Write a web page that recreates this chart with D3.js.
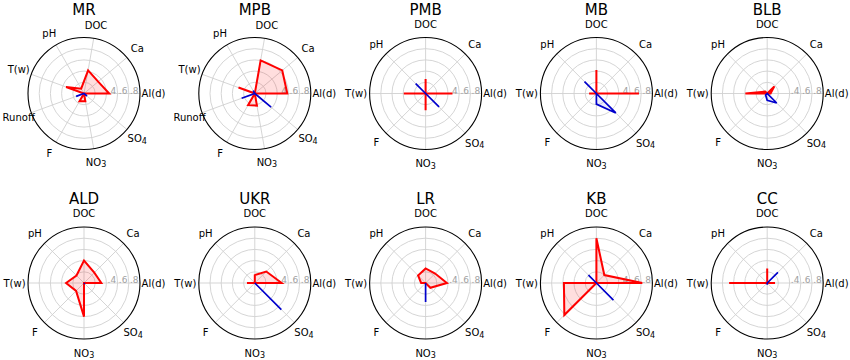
<!DOCTYPE html>
<html><head><meta charset="utf-8">
<script src="https://cdn.jsdelivr.net/npm/d3@7"></script>
<style>body{margin:0;background:#fff}svg{display:block}</style>
</head><body><svg id="c" width="850" height="360"></svg>
<script>
// ---------------- data ----------------
const sites = ["MR","MPB","PMB","MB","BLB","ALD","UKR","LR","KB","CC"];
const axes9 = ["Al(d)","Ca","DOC","pH","T(w)","Runoff","F","NO3","SO4"];
const axes8 = ["Al(d)","Ca","DOC","pH","T(w)","F","NO3","SO4"];
const ringTicks = [0.2, 0.4, 0.6, 0.8];
const ringLabelTicks = [0.4, 0.6, 0.8];
const ringLabels = [".4", ".6", ".8"];

// positive (red) and negative (blue) magnitudes, in axis order
const posMR  = [0.45, 0.33, 0.42, 0.10, 0.34, 0.00, 0.16, 0.14, 0.00];
const negMR  = [0.00, 0.00, 0.00, 0.00, 0.00, 0.15, 0.00, 0.00, 0.07];
const posMPB = [0.58, 0.64, 0.60, 0.00, 0.31, 0.00, 0.24, 0.22, 0.00];
const negMPB = [0.00, 0.00, 0.00, 0.06, 0.00, 0.25, 0.00, 0.00, 0.38];
const posPMB = [0.48, 0.00, 0.26, 0.00, 0.39, 0.00, 0.30, 0.00];
const negPMB = [0.00, 0.00, 0.00, 0.25, 0.00, 0.00, 0.00, 0.34];
const posMB  = [0.76, 0.00, 0.42, 0.00, 0.13, 0.00, 0.00, 0.00];
const negMB  = [0.00, 0.00, 0.00, 0.30, 0.00, 0.00, 0.19, 0.49];
const posBLB = [0.06, 0.18, 0.00, 0.05, 0.39, 0.00, 0.00, 0.00];
const negBLB = [0.00, 0.00, 0.00, 0.00, 0.00, 0.04, 0.12, 0.24];
const posALD = [0.31, 0.26, 0.40, 0.19, 0.32, 0.20, 0.60, 0.00];
const negALD = [0.00, 0.00, 0.00, 0.00, 0.00, 0.00, 0.00, 0.02];
const posUKR = [0.48, 0.29, 0.14, 0.00, 0.14, 0.00, 0.00, 0.00];
const negUKR = [0.00, 0.00, 0.00, 0.00, 0.00, 0.00, 0.00, 0.67];
const posLR  = [0.38, 0.24, 0.26, 0.19, 0.08, 0.00, 0.00, 0.12];
const negLR  = [0.00, 0.00, 0.00, 0.00, 0.00, 0.00, 0.34, 0.00];
const posKB  = [0.82, 0.20, 0.80, 0.00, 0.58, 0.81, 0.00, 0.00];
const negKB  = [0.00, 0.00, 0.00, 0.20, 0.00, 0.00, 0.00, 0.43];
const posCC  = [0.14, 0.00, 0.26, 0.00, 0.68, 0.00, 0.00, 0.00];
const negCC  = [0.00, 0.27, 0.00, 0.00, 0.00, 0.00, 0.03, 0.00];

const positive = [posMR, posMPB, posPMB, posMB, posBLB, posALD, posUKR, posLR, posKB, posCC];
const negative = [negMR, negMPB, negPMB, negMB, negBLB, negALD, negUKR, negLR, negKB, negCC];
const siteAxes = [axes9, axes9, axes8, axes8, axes8, axes8, axes8, axes8, axes8, axes8];

// ---------------- layout ----------------
const svg = d3.select("#c");
const R = 56, labelR = 69.5;
const FONT = "DejaVu Sans, sans-serif";
const colX = d3.scaleLinear().domain([0, 4]).range([84, 767.2]);
const rowY = [93.5, 283];
const titleY = [14.5, 203.5];
const r = d3.scaleLinear().domain([0, 1]).range([0, R]);

sites.forEach((site, k) => {
  const col = k % 5, row = Math.floor(k / 5);
  const cx = colX(col), cy = rowY[row];
  const axes = siteAxes[k];
  const n = axes.length;
  const theta = d3.scaleLinear().domain([0, n]).range([0, 2 * Math.PI]); // math angle, ccw from east
  const g = svg.append("g").attr("transform", `translate(${cx},${cy})`);

  // grid rings
  g.selectAll("circle.ring").data(ringTicks).join("circle")
    .attr("r", d => r(d)).attr("fill", "none")
    .attr("stroke", "#d0d0d0").attr("stroke-width", 0.9);
  // spokes
  g.selectAll("line.spoke").data(axes).join("line")
    .attr("x1", 0).attr("y1", 0)
    .attr("x2", (d, i) => r(1) * Math.cos(theta(i)))
    .attr("y2", (d, i) => -r(1) * Math.sin(theta(i)))
    .attr("stroke", "#d0d0d0").attr("stroke-width", 0.9);
  // ring labels
  g.selectAll("text.rl").data(ringLabelTicks).join("text")
    .attr("x", d => r(d) + 1.2).attr("y", 0.3)
    .attr("font-family", FONT).attr("font-size", 9).attr("fill", "#a0a0a0")
    .text((d, i) => ringLabels[i]);

  // data polygons
  const line = d3.lineRadial()
    .angle((d, i) => Math.PI / 2 - theta(i))
    .radius(d => r(d))
    .curve(d3.curveLinearClosed);
  g.append("path").attr("d", line(positive[k]))
    .attr("fill", "rgba(255,0,0,0.13)").attr("stroke", "#ff0000")
    .attr("stroke-width", 2).attr("stroke-linejoin", "miter");
  g.append("path").attr("d", line(negative[k]))
    .attr("fill", "rgba(0,0,255,0.08)").attr("stroke", "#0000cc")
    .attr("stroke-width", 1.7).attr("stroke-linejoin", "miter");

  // outer frame
  g.append("circle").attr("r", r(1)).attr("fill", "none")
    .attr("stroke", "#000").attr("stroke-width", 1.1);

  // axis labels
  axes.forEach((a, i) => {
    const t = g.append("text")
      .attr("x", labelR * Math.cos(theta(i)))
      .attr("y", -labelR * Math.sin(theta(i)))
      .attr("text-anchor", "middle").attr("dominant-baseline", "central")
      .attr("font-family", FONT).attr("font-size", 10).attr("fill", "#000");
    const m = a.match(/^([A-Z]+)(\d)$/);
    if (m) {
      t.append("tspan").text(m[1]);
      t.append("tspan").attr("dy", 2.5).attr("font-size", 8).text(m[2]);
    } else {
      t.text(a);
    }
  });

  // title
  svg.append("text").attr("x", cx).attr("y", titleY[row])
    .attr("text-anchor", "middle").attr("font-family", FONT)
    .attr("font-size", 15).attr("fill", "#000").text(site);
});
</script>
</body></html>
